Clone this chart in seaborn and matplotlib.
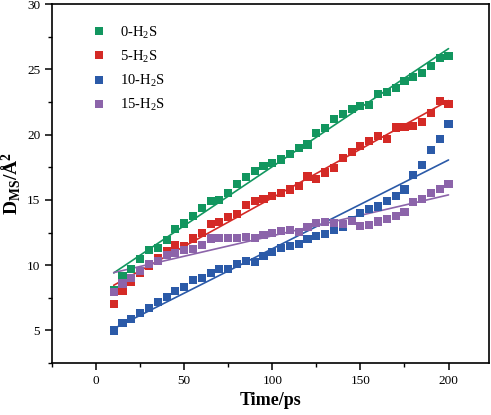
import numpy as np
import pandas as pd
import seaborn as sns
import matplotlib.pyplot as plt

# time axis (ps)
time = list(range(10, 205, 5))

h2s_0 = [8.1, 9.2, 9.7, 10.45, 11.2, 11.3, 11.9, 12.75, 13.2, 13.8, 14.35, 14.95, 15.0, 15.5, 16.25,
         16.75, 17.2, 17.6, 17.85, 18.1, 18.5, 19.0, 19.25, 20.1, 20.5, 21.2, 21.6, 21.95, 22.2, 22.3,
         23.1, 23.3, 23.55, 24.1, 24.4, 24.7, 25.25, 25.85, 26.05]
h2s_5 = [7.05, 8.0, 8.7, 9.4, 9.95, 10.55, 11.05, 11.55, 11.5, 12.05, 12.5, 13.15, 13.3, 13.7, 13.9,
         14.6, 14.95, 15.05, 15.3, 15.55, 15.8, 16.1, 16.8, 16.6, 17.1, 17.45, 18.2, 18.65, 19.1, 19.5,
         19.9, 19.7, 20.55, 20.6, 20.65, 20.95, 21.65, 22.55, 22.35]
h2s_10 = [5.0, 5.55, 5.9, 6.35, 6.75, 7.15, 7.55, 8.0, 8.35, 8.85, 9.0, 9.4, 9.7, 9.7, 10.1,
          10.3, 10.27, 10.68, 10.98, 11.3, 11.47, 11.65, 11.98, 12.23, 12.4, 12.72, 12.92, 13.44, 14.03, 14.3,
          14.5, 14.95, 15.33, 15.8, 16.9, 17.65, 18.85, 19.65, 20.8]
h2s_15 = [7.95, 8.6, 9.05, 9.55, 10.1, 10.3, 10.8, 10.95, 11.15, 11.25, 11.55, 12.05, 12.1, 12.1, 12.1,
          12.15, 12.1, 12.3, 12.5, 12.6, 12.7, 12.55, 12.9, 13.25, 13.3, 13.25, 13.15, 13.4, 13.0, 13.05,
          13.35, 13.55, 13.75, 14.05, 14.85, 15.1, 15.55, 15.85, 16.2]

labels = ["0-H$_2$S", "5-H$_2$S", "10-H$_2$S", "15-H$_2$S"]
colors = ["#12965f", "#d42a26", "#2b5aa8", "#8c64aa"]

df = pd.DataFrame({"Time": time * 4,
                   "MSD": h2s_0 + h2s_5 + h2s_10 + h2s_15,
                   "System": [l for l in labels for _ in time]})

sns.set_style("ticks")
plt.rcParams["font.family"] = ["Liberation Serif", "DejaVu Serif"]
plt.rcParams["mathtext.default"] = "regular"
plt.rcParams["text.color"] = "black"
plt.rcParams["axes.labelcolor"] = "black"
plt.rcParams["xtick.color"] = "black"
plt.rcParams["ytick.color"] = "black"
plt.rcParams["axes.edgecolor"] = "black"

fig, ax = plt.subplots(figsize=(4.91, 4.15), dpi=100)
fig.subplots_adjust(left=0.106, right=0.996, top=0.99, bottom=0.125)

sns.scatterplot(data=df, x="Time", y="MSD", hue="System", palette=colors, marker="s",
                s=34, linewidth=0, ax=ax, zorder=3)
for lab, c in zip(labels, colors):
    sub = df[df["System"] == lab]
    sns.regplot(data=sub, x="Time", y="MSD", scatter=False, ci=None, color=c,
                line_kws={"lw": 1.2}, ax=ax)

ax.set_xlim(-25, 223)
ax.set_ylim(2.5, 30)
ax.set_xticks([0, 50, 100, 150, 200])
ax.set_xticks(np.arange(-25, 225, 25), minor=True)
ax.set_yticks([5, 10, 15, 20, 25, 30])
ax.set_yticks(np.arange(2.5, 30.1, 2.5), minor=True)
ax.tick_params(which="major", length=5, width=1.1, labelsize=9.5, direction="out", colors="black")
ax.tick_params(which="minor", length=3, width=1.0, direction="out", colors="black")
for sp in ax.spines.values():
    sp.set_linewidth(1.2)
    sp.set_color("black")

ax.set_xlabel("Time/ps", fontsize=13, fontweight="bold", labelpad=4)
ax.set_ylabel("D$_{MS}$/Å$^2$", fontsize=14, fontweight="bold", labelpad=3)

leg = ax.legend(loc="upper left", bbox_to_anchor=(0.044, 0.98), frameon=False, fontsize=10.5,
                handletextpad=0.45, labelspacing=0.55, markerscale=1.0, title=None)

fig.savefig("out.png", dpi=100)
